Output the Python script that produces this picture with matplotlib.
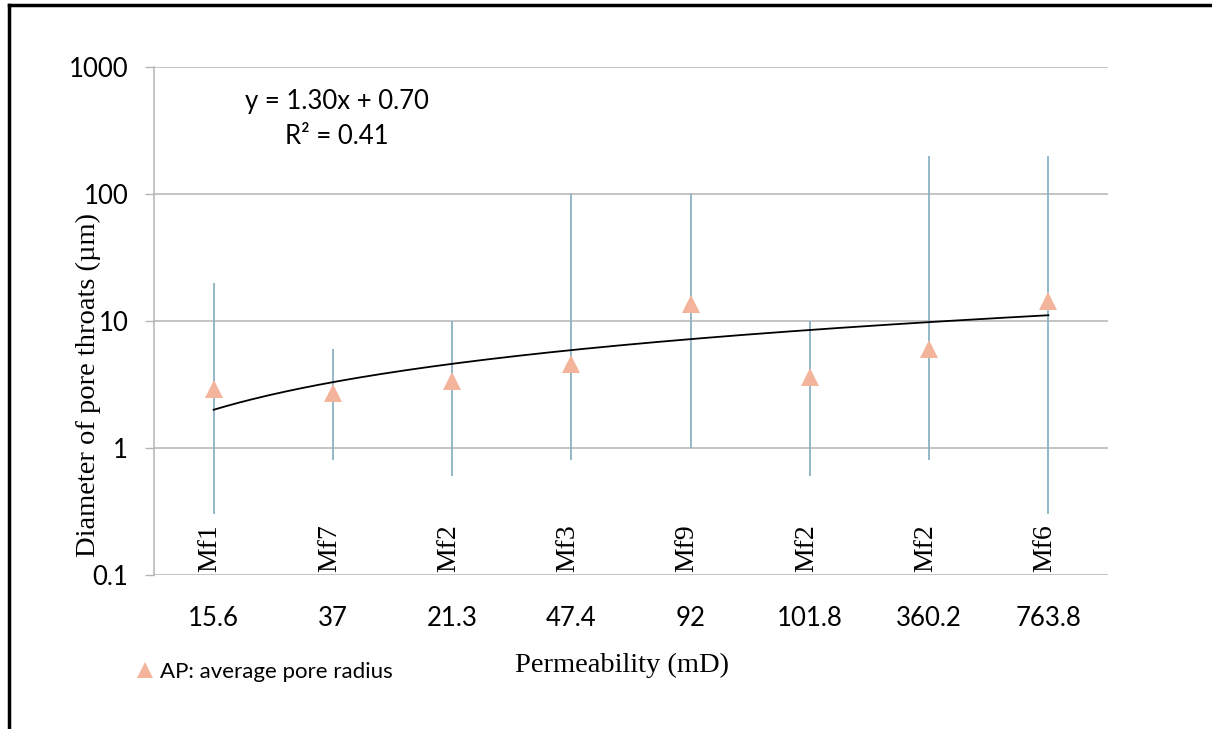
import matplotlib.pyplot as plt
import numpy as np
from matplotlib.lines import Line2D

# data
permeability = ["15.6", "37", "21.3", "47.4", "92", "101.8", "360.2", "763.8"]
samples = ["Mf1", "Mf7", "Mf2", "Mf3", "Mf9", "Mf2", "Mf2", "Mf6"]
ap_radius = [2.9, 2.7, 3.4, 4.6, 13.6, 3.6, 6.0, 14.5]
throat_min = [0.3, 0.8, 0.6, 0.8, 1.0, 0.6, 0.8, 0.3]
throat_max = [20, 6, 10, 100, 100, 10, 200, 200]

# linear trendline shown on the chart
slope, intercept, r2 = 1.30, 0.70, 0.41

sans = ["Lato", "DejaVu Sans"]
serif = ["Liberation Serif", "DejaVu Serif"]
grid_col = "#b4b4b4"
bar_col = "#8ab2c4"
tri_col = "#f4b49c"

fig = plt.figure(figsize=(12.12, 7.29), dpi=100)
ax = fig.add_axes([154 / 1212, 1 - 575 / 729, 954 / 1212, 508 / 729])

x = np.arange(1, len(samples) + 1)

# min-max range of pore throats
ax.vlines(x, throat_min, throat_max, color=bar_col, lw=1.3, zorder=2)

# trendline
xt = np.linspace(1, len(samples), 200)
ax.plot(xt, slope * xt + intercept, color="black", lw=1.3, zorder=3)

# average pore radius
ax.plot(x, ap_radius, linestyle="none", marker="^", markersize=13,
        color=tri_col, markeredgewidth=0, zorder=4)

ax.set_yscale("log")
ax.set_ylim(0.1, 1000)
ax.set_xlim(0.5, len(samples) + 0.5)
ax.set_yticks([0.1, 1, 10, 100, 1000])
ax.set_yticklabels(["0.1", "1", "10", "100", "1000"], fontfamily=sans, fontsize=18.5)
ax.yaxis.set_minor_locator(plt.NullLocator())
ax.set_xticks(x)
ax.set_xticklabels(permeability, fontfamily=sans, fontsize=18.5)

ax.tick_params(axis="y", length=6.5, width=1, color=grid_col, pad=12)
ax.tick_params(axis="x", length=0, pad=22)

ax.grid(axis="y", color=grid_col, lw=1.1)
ax.set_axisbelow(True)
for s in ["top", "right", "bottom"]:
    ax.spines[s].set_visible(False)
ax.spines["left"].set_color(grid_col)
ax.spines["left"].set_linewidth(1.1)

# sample names inside the plot
for xi, name in zip(x, samples):
    ax.text(xi - 0.03, 0.105, name, rotation=90, ha="center", va="bottom",
            fontfamily=serif, fontsize=20)

ax.text(2.03, 1000 * 10 ** (-35 / 127), "y = %.2fx + %.2f" % (slope, intercept),
        ha="center", va="center", fontfamily=sans, fontsize=18.5)
ax.text(2.03, 1000 * 10 ** (-70 / 127), "R² = %.2f" % r2,
        ha="center", va="center", fontfamily=sans, fontsize=18.5)

fig.text(622 / 1212, 1 - 665 / 729, "Permeability (mD)", ha="center", va="center",
         fontfamily=serif, fontsize=20.5)
fig.text(88 / 1212, 1 - 385 / 729, "Diameter of pore throats (µm)", rotation=90,
         ha="center", va="center", fontfamily=serif, fontsize=20.5)

handle = Line2D([], [], linestyle="none", marker="^", markersize=12,
                color=tri_col, markeredgewidth=0)
leg = fig.legend([handle], ["AP: average pore radius"], loc="center left",
                 bbox_to_anchor=(136 / 1212, 1 - 672 / 729), frameon=False,
                 handlelength=0.8, handletextpad=0.3, borderpad=0, borderaxespad=0,
                 prop={"family": sans, "size": 16})

# outer frame (top and left edges)
fig.add_artist(Line2D([9 / 1212, 1], [1 - 5 / 729, 1 - 5 / 729], color="black", lw=2.5))
fig.add_artist(Line2D([9 / 1212, 9 / 1212], [0, 1 - 5 / 729], color="black", lw=2.5))

fig.savefig("out.png", dpi=100)
